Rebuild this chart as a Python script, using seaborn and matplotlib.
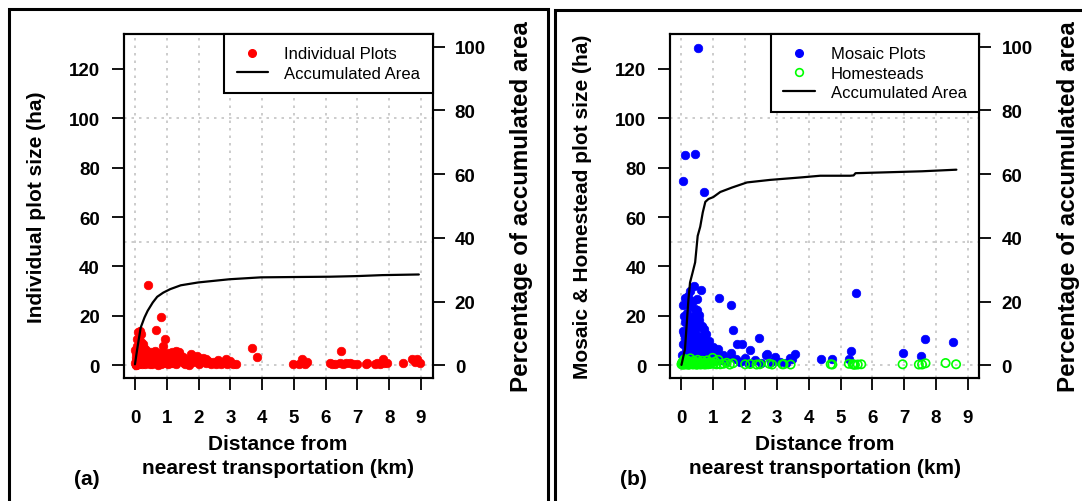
import matplotlib
matplotlib.use("Agg")
import matplotlib.pyplot as plt
import seaborn as sns
import pandas as pd
from matplotlib.lines import Line2D
from matplotlib.patches import Rectangle
from matplotlib.legend_handler import HandlerLine2D

# ---------------------------------------------------------------- data
x_ticks = [0, 1, 2, 3, 4, 5, 6, 7, 8, 9]
y_ticks_left = [0, 20, 40, 60, 80, 100, 120]
y_ticks_right = [0, 20, 40, 60, 80, 100]
grid_x = [0, 1, 2, 3, 4, 5, 6, 7, 8, 9]
grid_y = [0, 50, 100]

# panel (a): individual plots  (distance km, size ha)
a_outliers = [(0.40, 32.6), (0.81, 19.7), (0.65, 14.3), (0.94, 10.8), (0.89, 7.8),
              (3.67, 6.9), (3.83, 3.4), (6.47, 5.8)]
a_tall = [(0.10, 13.5), (0.15, 14.0), (0.20, 12.8), (0.05, 10.5), (0.12, 11.2), (0.18, 9.6),
          (0.25, 8.8), (0.08, 8.0), (0.00, 6.0), (0.22, 7.4), (0.30, 6.8), (0.03, 5.0),
          (0.15, 6.4), (0.02, 3.5), (0.35, 6.0)]
a_near = [(0.00, 0.8), (0.02, 2.0), (0.04, 0.3), (0.06, 3.0), (0.08, 1.2), (0.10, 4.2), (0.12, 0.5),
          (0.14, 2.6), (0.16, 5.0), (0.18, 1.5), (0.20, 3.6), (0.22, 0.4), (0.24, 2.2), (0.26, 4.6),
          (0.28, 1.0), (0.30, 3.0), (0.32, 0.6), (0.35, 2.4), (0.38, 4.8), (0.40, 1.4), (0.43, 3.4),
          (0.46, 0.5), (0.50, 5.2), (0.53, 2.0), (0.56, 3.8), (0.60, 0.8), (0.63, 5.6), (0.66, 2.6),
          (0.70, 4.0), (0.74, 1.2), (0.78, 3.2), (0.82, 0.5), (0.86, 2.2), (0.90, 4.4), (0.95, 1.4),
          (1.00, 3.0), (1.05, 0.6), (0.05, 1.6), (0.11, 5.6), (0.17, 0.9), (0.23, 5.4), (0.29, 2.8),
          (0.36, 1.0), (0.42, 4.2), (0.48, 2.8), (0.55, 0.4), (0.62, 3.0), (0.68, 1.8), (0.75, 5.0),
          (0.84, 3.6), (0.92, 2.2), (0.98, 4.6), (0.02, 0.2), (0.09, 2.8), (0.27, 3.9), (0.33, 5.0),
          (0.45, 1.8), (0.58, 4.6), (0.72, 0.3), (0.88, 1.0)]
a_mid = [(1.10, 2.2), (1.15, 4.6), (1.20, 1.0), (1.25, 3.0), (1.30, 0.5), (1.35, 2.6), (1.39, 5.4),
         (1.45, 1.6), (1.50, 3.4), (1.58, 0.6), (1.65, 2.0), (1.75, 4.7), (1.82, 1.2), (1.90, 2.6),
         (2.00, 0.5), (2.08, 1.8), (2.15, 3.0), (2.22, 0.8), (2.30, 1.9), (2.38, 0.4), (2.45, 1.5),
         (2.55, 0.7), (2.62, 2.2), (2.70, 0.5), (2.78, 1.4), (2.85, 2.6), (2.92, 0.8), (3.00, 1.6),
         (3.08, 0.5), (3.18, 0.7), (1.12, 0.8), (1.22, 3.8), (1.32, 1.8), (1.42, 4.0), (1.55, 1.0),
         (1.70, 0.3), (1.95, 3.6), (2.25, 2.6), (2.60, 1.0), (2.88, 0.4), (1.05, 4.8), (1.18, 5.2),
         (1.28, 5.6)]
a_far = [(4.98, 0.7), (5.15, 0.5), (5.24, 2.7), (5.29, 1.1), (5.35, 0.6), (5.40, 1.5),
         (6.14, 1.1), (6.20, 0.4), (6.30, 0.6), (6.45, 1.1), (6.55, 0.5), (6.65, 1.0), (6.76, 1.1),
         (6.85, 0.6), (6.97, 0.5), (7.28, 0.5), (7.30, 0.8), (7.55, 0.6), (7.60, 1.1), (7.70, 0.7),
         (7.81, 2.4), (7.85, 1.0), (7.92, 1.1), (8.44, 1.1), (8.71, 2.4), (8.80, 1.5), (8.87, 2.7),
         (8.97, 1.1)]

a_line_dist = [0.00, 0.07, 0.18, 0.30, 0.40, 0.56, 0.70, 0.89, 1.11, 1.44, 1.99, 2.97, 3.96,
               5.00, 6.14, 7.00, 7.78, 8.93]
a_line_pct = [0.3, 5.0, 11.8, 15.0, 17.1, 19.7, 21.5, 22.8, 23.9, 25.1, 26.0, 27.0, 27.6,
              27.7, 27.8, 28.0, 28.3, 28.5]

# panel (b): mosaic plots and homesteads
b_outliers = [(0.52, 128.4), (0.12, 85.3), (0.41, 85.5), (0.04, 74.5), (0.72, 70.0), (5.47, 29.2),
              (0.40, 31.9), (0.62, 30.5), (1.19, 27.2), (1.55, 24.5), (1.62, 14.3), (0.12, 27.4),
              (0.22, 28.1), (0.48, 26.8), (0.08, 20.0), (0.42, 22.7), (2.45, 11.2), (1.74, 8.5),
              (1.90, 8.5), (2.16, 6.1), (2.69, 4.5), (2.95, 3.5), (3.58, 4.5), (3.47, 2.4),
              (3.42, 2.8), (4.39, 2.4), (4.73, 2.6), (5.34, 5.8), (5.26, 2.6), (6.95, 5.1),
              (7.64, 10.5), (7.54, 3.8), (8.53, 9.5)]
b_near = [(0.02, 4.0), (0.05, 8.5), (0.06, 14.0), (0.08, 2.5), (0.10, 17.5), (0.12, 11.0),
          (0.14, 6.0), (0.16, 21.0), (0.18, 3.0), (0.20, 15.0), (0.22, 9.0), (0.24, 19.0),
          (0.26, 5.5), (0.28, 12.5), (0.30, 24.0), (0.32, 2.0), (0.34, 16.5), (0.36, 8.0),
          (0.38, 20.0), (0.40, 4.5), (0.42, 13.0), (0.44, 18.0), (0.46, 7.0), (0.48, 22.5),
          (0.50, 10.5), (0.52, 3.5), (0.54, 15.5), (0.56, 18.5), (0.58, 6.5), (0.60, 12.0),
          (0.62, 9.5), (0.64, 16.0), (0.66, 4.0), (0.68, 11.5), (0.70, 7.5), (0.72, 14.5),
          (0.74, 2.5), (0.76, 9.0), (0.78, 12.5), (0.80, 5.0), (0.82, 7.5), (0.85, 3.0),
          (0.88, 10.0), (0.90, 5.5), (0.95, 2.0), (1.00, 7.5), (1.05, 5.0), (1.10, 3.0),
          (0.04, 24.5), (0.09, 12.5), (0.15, 9.5), (0.19, 25.0), (0.25, 14.0), (0.29, 7.0),
          (0.33, 11.0), (0.37, 13.5), (0.41, 9.5), (0.45, 11.5), (0.49, 6.0), (0.53, 8.0),
          (0.57, 10.0), (0.61, 5.0), (0.65, 8.5), (0.69, 3.0), (0.73, 6.0), (0.77, 4.0),
          (0.03, 1.5), (0.11, 1.0), (0.21, 1.2), (0.31, 1.0), (0.43, 1.5), (0.55, 1.0),
          (0.67, 1.4), (0.79, 1.0), (0.92, 1.2), (0.35, 26.0), (0.55, 20.5), (0.27, 30.0)]
b_mid = [(1.20, 2.0), (1.30, 4.0), (1.40, 1.5), (1.56, 5.1), (1.70, 2.5), (1.85, 1.2),
         (2.00, 3.0), (2.10, 1.0), (2.30, 2.2), (2.50, 1.0), (2.67, 4.1), (2.80, 1.5),
         (3.10, 1.2), (3.30, 0.8), (1.15, 6.5), (1.45, 3.0)]
b_homesteads = [(0.00, 0.4), (0.02, 1.0), (0.04, 0.2), (0.06, 1.8), (0.08, 0.6), (0.10, 2.5),
                (0.12, 0.3), (0.14, 1.2), (0.16, 0.5), (0.18, 2.0), (0.20, 0.8), (0.22, 0.2),
                (0.24, 1.5), (0.26, 0.4), (0.28, 2.8), (0.30, 0.6), (0.33, 1.2), (0.36, 0.3),
                (0.39, 1.8), (0.42, 0.5), (0.45, 1.0), (0.48, 0.2), (0.51, 2.2), (0.54, 0.6),
                (0.57, 1.3), (0.60, 0.3), (0.63, 0.9), (0.66, 1.8), (0.69, 0.4), (0.72, 1.1),
                (0.75, 0.3), (0.78, 0.8), (0.81, 2.0), (0.84, 0.4), (0.87, 1.2), (0.90, 0.5),
                (0.94, 1.0), (0.98, 3.0), (1.02, 0.6), (1.06, 1.5), (1.10, 0.4), (1.16, 2.2),
                (1.22, 0.4), (1.32, 0.6), (1.42, 1.0), (1.52, 0.3), (1.62, 0.8), (2.00, 0.4),
                (2.16, 0.5), (2.36, 0.3), (2.46, 0.4), (2.76, 0.6), (2.85, 0.3), (3.17, 0.4),
                (3.21, 0.4), (3.43, 0.3), (4.69, 0.4), (4.74, 0.3), (5.26, 0.6), (5.38, 0.4),
                (5.41, 0.3), (5.45, 0.2), (5.54, 0.3), (5.65, 0.4), (6.95, 0.4), (7.46, 0.3),
                (7.56, 0.3), (7.67, 0.8), (8.30, 0.9), (8.63, 0.4)]

b_line_dist = [0.00, 0.11, 0.22, 0.27, 0.35, 0.43, 0.51, 0.59, 0.67, 0.75, 0.85, 1.00, 1.22,
               1.59, 2.06, 2.79, 3.79, 4.36, 5.30, 5.41, 5.47, 6.88, 7.56, 8.64]
b_line_pct = [0.1, 5.0, 20.7, 26.0, 29.1, 32.3, 40.6, 43.5, 48.0, 51.3, 52.2, 52.8, 54.4,
              55.8, 57.4, 58.2, 59.0, 59.5, 59.5, 59.6, 60.3, 60.7, 60.9, 61.4]

RED, BLUE, GREEN = "#FF0000", "#0000FF", "#00FF00"

def to_df(*groups):
    pts = [p for g in groups for p in g]
    return pd.DataFrame({"dist": [p[0] for p in pts], "size": [p[1] for p in pts]})

df_a = to_df(a_outliers, a_tall, a_near, a_mid, a_far)
df_b = to_df(b_outliers, b_near, b_mid)
df_h = to_df(b_homesteads)
line_a = pd.DataFrame({"dist": a_line_dist, "pct": a_line_pct})
line_b = pd.DataFrame({"dist": b_line_dist, "pct": b_line_pct})

# ---------------------------------------------------------------- style
sns.set_theme(style="white")
plt.rcParams['font.family'] = ['Liberation Sans', 'DejaVu Sans']
plt.rcParams['axes.edgecolor'] = 'black'
plt.rcParams['text.color'] = 'black'
plt.rcParams['axes.labelcolor'] = 'black'
plt.rcParams['xtick.color'] = 'black'
plt.rcParams['ytick.color'] = 'black'

W, H = 1082, 502
fig = plt.figure(figsize=(W / 100, H / 100), dpi=100)


def px_rect(l, t, r, b):
    return [l / W, 1 - b / H, (r - l) / W, (b - t) / H]


class RightMarker(HandlerLine2D):
    def get_xdata(self, legend, xdescent, ydescent, width, height, fontsize):
        xd, xm = super().get_xdata(legend, xdescent, ydescent, width, height, fontsize)
        return xd, [-xdescent + width - 0.12 * fontsize]


TICK_FS = 13.5
LAB_FS = 15


def style_panel(ax, ylabel, line_df, legend_items, tag, tag_x):
    ax.set_xlim(-0.36, 9.36)
    ax.set_ylim(-5.16, 134.16)
    for gx in grid_x:
        ax.axvline(gx, color="#c4c4c4", lw=1.2, ls=(0, (1.5, 3)), zorder=0)
    for gy in grid_y:
        ax.axhline(gy, color="#c4c4c4", lw=1.2, ls=(0, (1.5, 3)), zorder=0)
    ax.set_xticks(x_ticks, labels=[str(v) for v in x_ticks], fontsize=TICK_FS, fontweight="bold")
    ax.set_yticks(y_ticks_left, labels=[str(v) for v in y_ticks_left], fontsize=TICK_FS,
                  fontweight="bold")
    ax.tick_params(axis="x", bottom=True, direction="out", length=8.6, width=1.3,
                   color="black", labelcolor="black", pad=14)
    ax.tick_params(axis="y", left=True, direction="out", length=8.6, width=1.3,
                   color="black", labelcolor="black", pad=8.5)
    for sp in ax.spines.values():
        sp.set_visible(True)
        sp.set_color("black")
        sp.set_linewidth(1.5)
    ax.set_xlabel("Distance from\nnearest transportation (km)", fontsize=LAB_FS,
                  fontweight="bold", linespacing=1.35, color="black")
    ax.xaxis.set_label_coords(0.5, -0.225)
    ax.xaxis.label.set_va("center")
    ax.set_ylabel(ylabel, fontsize=LAB_FS, fontweight="bold", color="black")
    ax.yaxis.set_label_coords(-0.282, 0.5)
    ax.yaxis.label.set_va("center")

    tw = ax.twinx()
    sns.lineplot(data=line_df, x="dist", y="pct", ax=tw, color="black", lw=1.6,
                 estimator=None, sort=False, legend=False)
    tw.set_ylim(-4, 104)
    tw.set_xlim(-0.36, 9.36)
    tw.set_yticks(y_ticks_right, labels=[str(v) for v in y_ticks_right], fontsize=TICK_FS,
                  fontweight="bold")
    tw.tick_params(axis="y", right=True, direction="out", length=8.6, width=1.3,
                   color="black", labelcolor="black", pad=7.5)
    for sp in tw.spines.values():
        sp.set_visible(True)
        sp.set_color("black")
        sp.set_linewidth(1.5)
    tw.set_ylabel("Percentage of accumulated area", fontsize=17.4, fontweight="bold",
                  color="black")
    tw.yaxis.set_label_coords(1.288, 0.5)
    tw.yaxis.label.set_va("center")
    tw.set_xlabel("")

    handles = [h for h, _ in legend_items]
    labels = [l for _, l in legend_items]
    hmap = {h: RightMarker() for h in handles if h.get_linestyle() in ("None", "none", "")}
    leg = tw.legend(handles, labels, loc="upper right", bbox_to_anchor=(1, 1),
                    borderaxespad=0, borderpad=0.75, handlelength=1.9, handletextpad=0.95,
                    labelspacing=0.25, fontsize=12, frameon=True, fancybox=False,
                    edgecolor="black", framealpha=1, handler_map=hmap)
    leg.get_frame().set_linewidth(1.5)
    for t in leg.get_texts():
        t.set_color("black")
    fig.text(tag_x / W, 1 - 480 / H, tag, fontsize=LAB_FS, fontweight="bold",
             ha="center", va="center", color="black")


# ---------------------------------------------------------------- panel (a)
axA = fig.add_axes(px_rect(123.5, 35, 432.5, 379))
sns.scatterplot(data=df_a, x="dist", y="size", ax=axA, color=RED, edgecolor=RED,
                s=38, linewidth=0.5, legend=False, zorder=3)
style_panel(axA, "Individual plot size (ha)", line_a,
            [(Line2D([], [], ls="None", marker="o", ms=5.5, mfc=RED, mec=RED), "Individual Plots"),
             (Line2D([], [], color="black", lw=1.6), "Accumulated Area")],
            "(a)", 87)

# ---------------------------------------------------------------- panel (b)
axB = fig.add_axes(px_rect(670, 35, 979.3, 379))
sns.scatterplot(data=df_b, x="dist", y="size", ax=axB, color=BLUE, edgecolor=BLUE,
                s=38, linewidth=0.5, legend=False, zorder=3)
sns.scatterplot(data=df_h, x="dist", y="size", ax=axB, facecolor="none", edgecolor=GREEN,
                s=36, linewidth=1.2, legend=False, zorder=4)
style_panel(axB, "Mosaic & Homestead plot size (ha)", line_b,
            [(Line2D([], [], ls="None", marker="o", ms=5.5, mfc=BLUE, mec=BLUE), "Mosaic Plots"),
             (Line2D([], [], ls="None", marker="o", ms=5.5, mfc="none", mec=GREEN, mew=1.2),
              "Homesteads"),
             (Line2D([], [], color="black", lw=1.6), "Accumulated Area")],
            "(b)", 633)

# ---------------------------------------------------------------- panel frames
fig.add_artist(Rectangle((8.5 / W, -0.05), 539 / W, 1 - 9.5 / H + 0.05,
                         transform=fig.transFigure, fill=False, ec="black", lw=2.2))
fig.add_artist(Rectangle((554.5 / W, -0.05), 0.6, 1 - 11 / H + 0.05,
                         transform=fig.transFigure, fill=False, ec="black", lw=2.2))

fig.savefig("out.png", dpi=100)
